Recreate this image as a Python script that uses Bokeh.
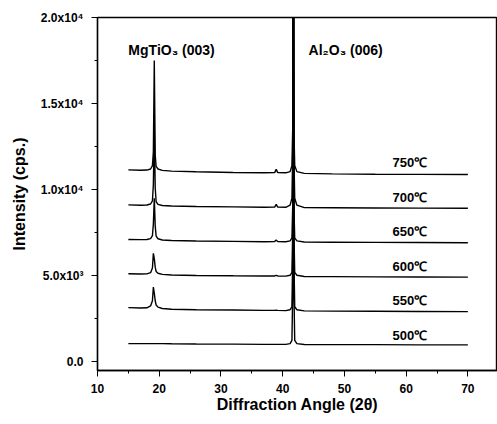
from bokeh.plotting import figure
from bokeh.models import ColumnDataSource, Range1d, FixedTicker, Label
from bokeh.embed import file_html
from bokeh.resources import INLINE
from bokeh.core.properties import value

# ---- data ----
two_theta = [15.0, 17.0, 18.0, 18.6, 18.9, 19.05, 19.2, 19.35, 19.5, 19.8, 20.5, 22.0, 26.0,
             32.0, 37.0, 38.7, 38.95, 39.2, 40.5, 41.2, 41.5, 41.62, 41.72, 41.82, 41.95,
             42.3, 43.5, 48.0, 55.0, 62.0, 70.0]

i_750 = [11150, 11130, 11140, 11200, 11400, 12200, 17500, 12000, 11350, 11200, 11120, 11080, 11040,
         11000, 10980, 10990, 11180, 10990, 10980, 11050, 11400, 13500, 45000, 13500, 11400,
         11050, 10950, 10920, 10900, 10890, 10880]
i_700 = [9120, 9100, 9110, 9170, 9350, 10300, 13500, 10100, 9300, 9150, 9080, 9050, 9020,
         9000, 8980, 8990, 9150, 8985, 8980, 9100, 9500, 12000, 60000, 12000, 9500,
         9100, 8960, 8950, 8940, 8930, 8920]
i_650 = [7110, 7100, 7110, 7160, 7330, 8000, 9500, 7900, 7300, 7150, 7080, 7050, 7020,
         7000, 6980, 6990, 7080, 6985, 6980, 7030, 7200, 9000, 30000, 9000, 7200,
         7030, 6960, 6950, 6940, 6930, 6920]
i_600 = [5120, 5100, 5110, 5180, 5450, 6300, 6000, 5500, 5250, 5150, 5080, 5050, 5020,
         5000, 4990, 4990, 5030, 4990, 4980, 5030, 5200, 7500, 25000, 7500, 5200,
         5030, 4960, 4950, 4940, 4930, 4920]
i_550 = [3150, 3130, 3140, 3250, 3550, 4350, 4000, 3550, 3300, 3180, 3100, 3060, 3030,
         3010, 2990, 2990, 3000, 2990, 2980, 3030, 3200, 6000, 22000, 6000, 3200,
         3030, 2960, 2950, 2940, 2930, 2920]
i_500 = [1060, 1060, 1060, 1060, 1060, 1060, 1060, 1060, 1060, 1060, 1060, 1050, 1040,
         1030, 1020, 1020, 1020, 1020, 1020, 1060, 1250, 4000, 21000, 4000, 1250,
         1060, 1010, 1000, 1000, 990, 990]

temperatures = ["500", "550", "600", "650", "700", "750"]
label_levels = [1000, 3000, 5000, 7000, 9000, 11000]
series = [i_500, i_550, i_600, i_650, i_700, i_750]

x_ticks = [10, 20, 30, 40, 50, 60, 70]
y_ticks = [0, 5000, 10000, 15000, 20000]
y_tick_labels = ["0.0", "5.0x10\u00b3", "1.0x10\u2074", "1.5x10\u2074", "2.0x10\u2074"]

FONT = "Liberation Sans"

p = figure(width=497, height=420, output_backend="svg", toolbar_location=None,
           x_range=Range1d(10, 74.8), y_range=Range1d(-500, 20000),
           min_border_left=97, min_border_right=0, min_border_top=17, min_border_bottom=50)
p.grid.visible = False
p.outline_line_color = "black"
p.outline_line_width = 1.4
p.outline_line_alpha = 1.0
p.background_fill_color = "white"

for ys in series:
    p.line(two_theta, ys, line_color="black", line_width=1.4)

# temperature labels
src = ColumnDataSource(dict(x=[57.8] * len(temperatures),
                            y=label_levels,
                            t=[t + "\u2103" for t in temperatures]))
p.text(x="x", y="y", text="t", source=src, text_font=value(FONT), text_font_style="bold",
       text_font_size="13px", text_baseline="bottom", y_offset=-2, text_color="black")

# peak annotations
p.add_layout(Label(x=15.0, y=18100, text="MgTiO\u2083 (003)", text_font=FONT, text_color="black",
                   text_font_style="bold", text_font_size="14px", text_baseline="middle"))
p.add_layout(Label(x=44.2, y=18100, text="Al\u2082O\u2083 (006)", text_font=FONT, text_color="black",
                   text_font_style="bold", text_font_size="14px", text_baseline="middle"))

# axes
xa = p.below[0]
xa.ticker = FixedTicker(ticks=x_ticks, minor_ticks=[15, 25, 35, 45, 55, 65])
xa.axis_label = "Diffraction Angle (2\u03b8)"
ya = p.left[0]
ya.ticker = FixedTicker(ticks=y_ticks, minor_ticks=[2500, 7500, 12500, 17500])
ya.major_label_overrides = {t: l for t, l in zip(y_ticks, y_tick_labels)}
ya.axis_label = "Intensity (cps.)"

for ax in (xa, ya):
    ax.axis_line_color = "black"
    ax.axis_line_width = 1.3
    ax.major_tick_line_color = "black"
    ax.minor_tick_line_color = "black"
    ax.major_tick_in = 0
    ax.major_tick_out = 6
    ax.minor_tick_in = 0
    ax.minor_tick_out = 3
    ax.major_label_text_font = FONT
    ax.major_label_text_font_style = "bold"
    ax.major_label_text_font_size = "12px"
    ax.major_label_text_color = "black"
    ax.axis_label_text_font = FONT
    ax.axis_label_text_font_style = "bold"
    ax.axis_label_text_font_size = "16px"
    ax.axis_label_text_color = "black"
xa.major_label_standoff = 7
xa.axis_label_standoff = 0
ya.major_label_standoff = 8
ya.axis_label_standoff = 10

open("out.html", "w").write(file_html(p, INLINE))
